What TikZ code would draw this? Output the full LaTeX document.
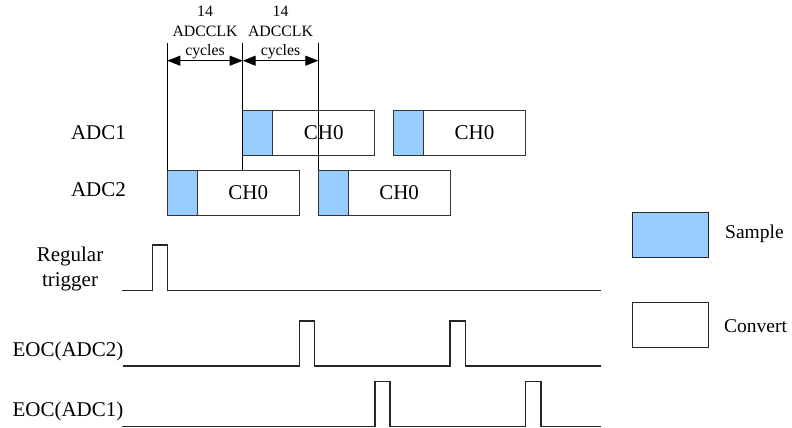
\documentclass[tikz,border=0pt]{standalone}
\usepackage{fontspec}
\setmainfont{Liberation Serif}
\usetikzlibrary{arrows.meta}
\definecolor{samp}{RGB}{153,204,255}
\begin{document}
\begin{tikzpicture}[x=1pt,y=-1pt,
  lbl/.style={font=\fontsize{21}{25.7}\selectfont, inner sep=0pt, align=center},
  leglbl/.style={font=\fontsize{19.5}{23}\selectfont, inner sep=0pt, anchor=west},
  toplbl/.style={font=\fontsize{15.8}{19.5}\selectfont, align=center, inner sep=0pt},
  sbox/.style={draw=black!80, fill=samp, line width=1pt, minimum width=30pt, minimum height=45pt, inner sep=0pt, outer sep=0pt, anchor=north west},
  cbox/.style={draw=black!80, fill=white, line width=1pt, minimum width=102pt, minimum height=45pt, inner sep=0pt, outer sep=0pt, anchor=north west, font=\fontsize{21}{25}\selectfont},
  legbox/.style={draw=black!85, line width=1pt, minimum width=75.6pt, minimum height=45pt, inner sep=0pt, outer sep=0pt, anchor=north west},
  sig/.style={line width=1.1pt, draw=black!85},
  dimline/.style={line width=1pt, draw=black},
  dimarrow/.style={line width=1pt, {Triangle[length=13pt,width=10pt]}-{Triangle[length=13pt,width=10pt]}}]
\useasboundingbox (0,0) rectangle (792,428);

% top labels
\node[toplbl] (lab1) at (205,32.5) {14\\ADCCLK\\cycles};
\node[toplbl] (lab2) at (280.5,32.5) {14\\ADCCLK\\cycles};

% row labels
\node[lbl] (ladc1) at (98.5,133) {ADC1};
\node[lbl] (ladc2) at (98.5,190) {ADC2};
\node[lbl] (ltrig) at (70,269) {Regular\\trigger};
\node[lbl] (leoc2) at (68,351.7) {EOC(ADC2)};
\node[lbl] (leoc1) at (68,411.7) {EOC(ADC1)};

% ADC1 boxes
\node[sbox] (s1a) at (242.7,110) {};
\node[cbox, minimum width=102pt] (c1a) at (s1a.north east) {CH0};
\node[sbox] (s1b) at (393.3,110) {};
\node[cbox, minimum width=102.4pt] (c1b) at (s1b.north east) {CH0};

% ADC2 boxes
\node[sbox] (s2a) at (167.3,170) {};
\node[cbox, minimum width=102pt] (c2a) at (s2a.north east) {CH0};
\node[sbox] (s2b) at (318.3,170) {};
\node[cbox, minimum width=101.7pt] (c2b) at (s2b.north east) {CH0};

% dimension lines
\coordinate (t1) at (167.3,43);
\coordinate (t2) at (242.7,43);
\coordinate (t3) at (318.3,43);
\coordinate (a1) at (167.3,60.7);
\coordinate (a2) at (242.7,60.7);
\coordinate (a3) at (318.3,60.7);
\draw[dimline] (t1) -- (s2a.north west);
\draw[dimline] (t2) -- (t2 |- c2a.north);
\draw[dimline] (t3) -- (s2b.north west);
\draw[dimarrow] (a1) -- (a2);
\draw[dimarrow] (a2) -- (a3);

% signals
\draw[sig] (121.7,290.7) -- (152.3,290.7) -- (152.3,245) -- (167.7,245) -- (167.7,290.7) -- (601,290.7);
\draw[sig] (122.7,366) -- (299.3,366) -- (299.3,321) -- (314.3,321) -- (314.3,366)
  -- (450,366) -- (450,321) -- (465.7,321) -- (465.7,366) -- (601,366);
\draw[sig] (122,426.7) -- (375,426.7) -- (375,381.7) -- (390,381.7) -- (390,426.7)
  -- (525.7,426.7) -- (525.7,381.7) -- (541,381.7) -- (541,426.7) -- (601,426.7);

% legend
\node[legbox, fill=samp] (legs) at (632.7,212.3) {};
\node[legbox, fill=white] (legc) at (632.7,302.7) {};
\node[leglbl] (legst) at (725,234) {Sample};
\node[leglbl] (legct) at (724,326) {Convert};
\end{tikzpicture}
\end{document}
